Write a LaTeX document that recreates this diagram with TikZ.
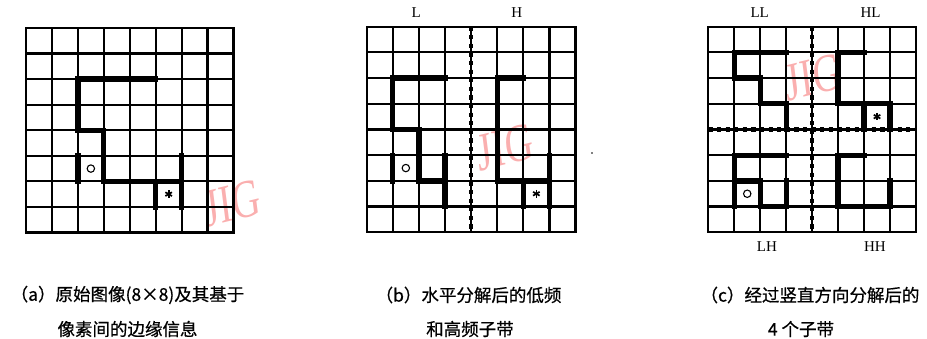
\documentclass[tikz,border=0pt]{standalone}
\usepackage{fontspec}
\setmainfont{Liberation Serif}
\newfontfamily\cjk[FakeBold=0.6]{Noto Sans CJK SC}
\definecolor{wmpink}{RGB}{250,175,175}
\newcommand\drawgridlines{%
  \foreach \i in {0,...,8} {
    \draw[gridline] (\i,0) -- (\i,8);
    \draw[gridline] (0,\i) -- (8,\i);
  }%
}
\newcommand\drawast[1]{%
  \foreach \a in {90,30,150} {\draw[astline] (#1) ++(\a:3.8pt) -- ++(\a+180:7.6pt);}%
}
\begin{document}
\begin{tikzpicture}[x=1pt,y=-1pt,
  gridline/.style={line width=2.2pt, line cap=rect},
  edge/.style={line width=5.3pt, line cap=rect, line join=miter},
  dotline/.style={line width=4.4pt, dash pattern=on 4.2pt off 4.4pt},
  ring/.style={line width=1.1pt},
  astline/.style={line width=1.7pt},
  lab/.style={font=\fontsize{15}{15}\selectfont, inner sep=0pt},
  captext/.style={font=\cjk\fontsize{17.5}{17.5}\selectfont, inner sep=0pt},
  wm/.style={font=\fontsize{54}{54}\selectfont, text=wmpink, xscale=0.72, rotate=10, inner sep=0pt}]
\useasboundingbox (0,0) rectangle (927,339);

% watermarks (under the grids)
\node[wm] (wma) at (232,203) {JIG};
\node[wm] (wmb) at (505,147) {JIG};
\node[wm] (wmc) at (813,77) {JIG};

% ---------- grid (a) ----------
\begin{scope}[xshift=26pt, yshift=-28pt, x=25.94pt, y=-25.56pt]
  \drawgridlines
  \draw[edge] (5,2) -- (2,2) -- (2,4) -- (3,4) -- (3,6) -- (6,6);
  \draw[edge] (6,5) -- (6,7);
  \draw[edge] (5,6) -- (5,7);
  \draw[edge] (2,5) -- (2,6);
  \draw[ring] (2.5,5.5) circle (3.7pt);
  \coordinate (asta) at (5.5,6.5);
  \drawast{asta}
\end{scope}

% ---------- grid (b) ----------
\begin{scope}[xshift=366.7pt, yshift=-26.7pt, x=26.1pt, y=-25.7pt]
  \drawgridlines
  \draw[dotline] (4,0) -- (4,8);
  \draw[edge] (3,2) -- (1,2) -- (1,4) -- (2,4) -- (2,6) -- (3,6);
  \draw[edge] (3,5) -- (3,7);
  \draw[edge] (1,5) -- (1,6);
  \draw[edge] (6,2) -- (5,2) -- (5,6) -- (7,6);
  \draw[edge] (7,5) -- (7,7);
  \draw[edge] (6,6) -- (6,7);
  \draw[ring] (1.5,5.5) circle (3.7pt);
  \coordinate (astb) at (6.5,6.5);
  \drawast{astb}
  \node[lab] (L) at (1.9,-0.53) {L};
  \node[lab] (H) at (5.75,-0.53) {H};
\end{scope}

% ---------- grid (c) ----------
\begin{scope}[xshift=708.3pt, yshift=-26.7pt, x=25.96pt, y=-25.7pt]
  \drawgridlines
  \draw[dotline] (4,0) -- (4,8);
  \draw[dotline] (0,4) -- (8,4);
  \draw[edge] (3,1) -- (1,1) -- (1,2) -- (2,2) -- (2,3) -- (3,3) -- (3,4);
  \draw[edge] (6,1) -- (5,1) -- (5,3) -- (7,3) -- (7,4);
  \draw[edge] (6,3) -- (6,4);
  \draw[edge] (3,5) -- (1,5) -- (1,7);
  \draw[edge] (1,6) -- (2,6) -- (2,7) -- (3,7) -- (3,6);
  \draw[edge] (6,5) -- (5,5) -- (5,7) -- (7,7) -- (7,6);
  \draw[ring] (1.5,6.5) circle (3.7pt);
  \coordinate (astc) at (6.5,3.5);
  \drawast{astc}
  \node[lab] (LL) at (1.98,-0.53) {LL};
  \node[lab] (HL) at (6.25,-0.53) {HL};
  \node[lab] (LH) at (2.26,8.57) {LH};
  \node[lab] (HH) at (6.42,8.57) {HH};
\end{scope}

\fill (592,153) circle (0.8pt);

% ---------- captions ----------
\node[captext] (capa1) at (127.5,295) {（a）原始图像(8×8)及其基于};
\node[captext] (capa2) at (127.5,329) {像素间的边缘信息};
\node[captext] (capb1) at (468.5,295) {（b）水平分解后的低频};
\node[captext] (capb2) at (470,329) {和高频子带};
\node[captext] (capc1) at (810,295) {（c）经过竖直方向分解后的};
\node[captext] (capc2) at (801,329) {4 个子带};
\end{tikzpicture}
\end{document}
